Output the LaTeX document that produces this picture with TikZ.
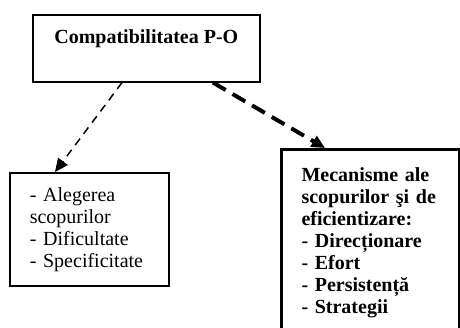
\documentclass[tikz,border=0pt]{standalone}
\usepackage{fontspec}
\setmainfont{Liberation Serif}
\usetikzlibrary{arrows.meta}

\tikzset{every picture/.style={line width=0.75pt}}
\tikzset{
  box/.style={draw, line width=1.2pt, inner xsep=15pt, align=left, font=\fontsize{15}{16.5}\selectfont},
  thin dash/.style={line width=1.1pt, dash pattern={on 6pt off 4.5pt}, -{Triangle[length=10pt,width=9pt]}},
  thick dash/.style={line width=3pt, dash pattern={on 11pt off 6pt}, -{Triangle[length=10pt,width=9pt]}},
}

\begin{document}
\begin{tikzpicture}[x=0.75pt,y=0.75pt,yscale=-1,xscale=1]
%set diagram size 460 x 328, the last box runs off the bottom
\clip (0,0) rectangle (460,328);

%Shape: Rectangle [id:compat]
\node [box, font=\fontsize{15}{16.5}\selectfont\bfseries, anchor=north west, align=center, minimum width=170.25pt, minimum height=50.25pt, text depth=18pt] (compat) at (32,14) {Compatibilitatea P-O};
%Shape: Rectangle [id:choice]
\node [box, anchor=north west, text width=89.25pt, minimum height=84.75pt] (choice) at (9,172) {- Alegerea\\scopurilor\\- Dificultate\\- Specificitate};
%Shape: Rectangle [id:mech]
\node [box, line width=2.25pt, font=\fontsize{15}{16.5}\selectfont\bfseries, anchor=north west, text width=103.5pt, inner ysep=13.5pt] (mech) at (280,148) {Mecanisme ale\\scopurilor şi de\\eficientizare:\\- Direcționare\\- Efort\\- Persistență\\- Strategii};

%Straight Lines [id:thin]
\draw [thin dash] ([xshift=67.5pt]compat.south west) -- ([xshift=34.5pt]choice.north west);
%Straight Lines [id:thick]
\draw [thick dash] ([xshift=135.75pt]compat.south west) -- ([xshift=33.75pt]mech.north west);

\end{tikzpicture}
\end{document}
